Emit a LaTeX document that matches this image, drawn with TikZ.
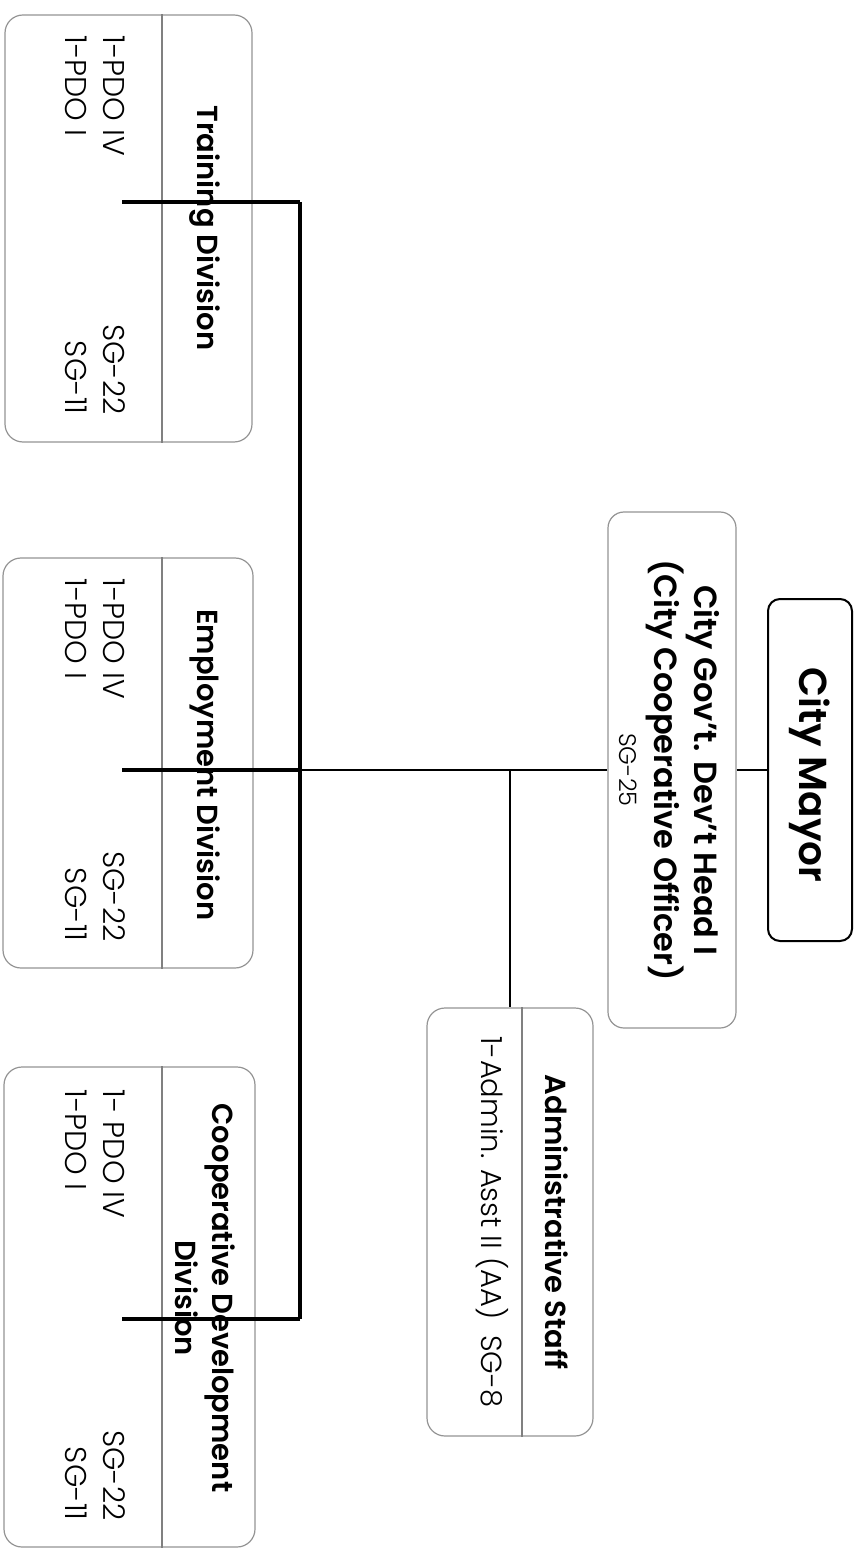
\documentclass[tikz,border=0pt]{standalone}
\usepackage{fontspec}
\setmainfont{Poppins}[BoldFont={Poppins SemiBold}]
\newfontfamily\lightfont{Poppins Light}
\begin{document}
\begin{tikzpicture}[x=0.5pt,y=-0.5pt,
  frame/.style={draw=black!42, line width=0.6pt, rounded corners=9pt, inner sep=0pt},
  mayorframe/.style={draw=black, line width=1pt, rounded corners=6pt, inner sep=0pt},
  vtext/.style={rotate=-90, inner sep=0pt, text=black},
  head/.style={vtext, font=\bfseries\fontsize{14.5}{18.5}\selectfont, align=center},
  bodytext/.style={vtext, font=\lightfont\fontsize{15}{17}\selectfont, text=black},
  divider/.style={draw=black!50, line width=0.6pt},
  branch/.style={draw=black, line width=1.6pt},
  link/.style={draw=black, line width=0.7pt}
]
\useasboundingbox (0,0) rectangle (858,1550);

% ---- boxes ----
\node[mayorframe, minimum width=42pt, minimum height=171pt] (mayor) at (810,770) {};
\node[frame, rounded corners=8pt, minimum width=64pt, minimum height=258pt] (gov) at (672,770) {};
\node[frame, minimum width=83pt, minimum height=214pt] (admin) at (510,1222) {};
\node[frame, minimum width=123.5pt, minimum height=213.5pt] (train) at (128.5,228.5) {};
\node[frame, minimum width=125pt, minimum height=205pt] (employ) at (128,763) {};
\node[frame, minimum width=125.5pt, minimum height=240pt] (coop) at (129.5,1307) {};

% ---- dividers ----
\draw[divider] (train.north -| 162,0) -- (train.south -| 162,0);
\draw[divider] (employ.north -| 162,0) -- (employ.south -| 162,0);
\draw[divider] (coop.north -| 162,0) -- (coop.south -| 162,0);
\draw[divider] (admin.north -| 522,0) -- (admin.south -| 522,0);

% ---- texts ----
\node[vtext, font=\bfseries\fontsize{19.5}{24}\selectfont] (mayortxt) at (810,775) {City Mayor};
\node[vtext, font=\bfseries\fontsize{16}{19}\selectfont] (gov1) at (703,770) {City Gov’t. Dev’t Head I};
\node[vtext, font=\bfseries\fontsize{16}{19}\selectfont] (gov2) at (665,770) {(City Cooperative Officer)};
\node[vtext, font=\lightfont\fontsize{12}{14}\selectfont] (gov3) at (628,770) {SG-25};

\node[head] (adminhead) at (557,1222) {Administrative Staff};
\node[bodytext, font=\lightfont\fontsize{14.5}{17}\selectfont] (adminbody) at (492,1222) {1-Admin. Asst II (AA)\ \ SG-8};

\node[head] (trainhead) at (205,228) {Training Division};
\node[bodytext, anchor=west] (train1) at (114,35) {1-PDO IV};
\node[bodytext, anchor=west] (train2) at (76,35) {1-PDO I};
\node[bodytext, anchor=east] (train3) at (114,415) {SG-22};
\node[bodytext, anchor=east] (train4) at (76,415) {SG-11};

\node[head] (employhead) at (205,765) {Employment Division};
\node[bodytext, anchor=west] (employ1) at (114,578) {1-PDO IV};
\node[bodytext, anchor=west] (employ2) at (76,578) {1-PDO I};
\node[bodytext, anchor=east] (employ3) at (114,942) {SG-22};
\node[bodytext, anchor=east] (employ4) at (76,942) {SG-11};

\node[head] (coophead) at (205,1298) {Cooperative Development\\Division};
\node[bodytext, anchor=west] (coop1) at (114,1089) {1- PDO IV};
\node[bodytext, anchor=west] (coop2) at (76,1089) {1-PDO I};
\node[bodytext, anchor=east] (coop3) at (114,1521) {SG-22};
\node[bodytext, anchor=east] (coop4) at (76,1521) {SG-11};

% ---- connectors ----
\coordinate (J) at (300,770);
\coordinate (TA) at (300,202);
\coordinate (TC) at (300,1319);
\coordinate (trainIn) at (122,202);
\coordinate (employIn) at (122,770);
\coordinate (coopIn) at (122,1319);

\draw[link] (gov.east) -- (mayor.west);
\draw[link] (gov.west) -- (J);
\draw[link, line width=1pt] (admin.north |- J) -- (admin.north);
\draw[branch] (TA) -- (TC);
\draw[branch] (TA) -- (trainIn);
\draw[branch] (J) -- (employIn);
\draw[branch] (TC) -- (coopIn);
\end{tikzpicture}
\end{document}
